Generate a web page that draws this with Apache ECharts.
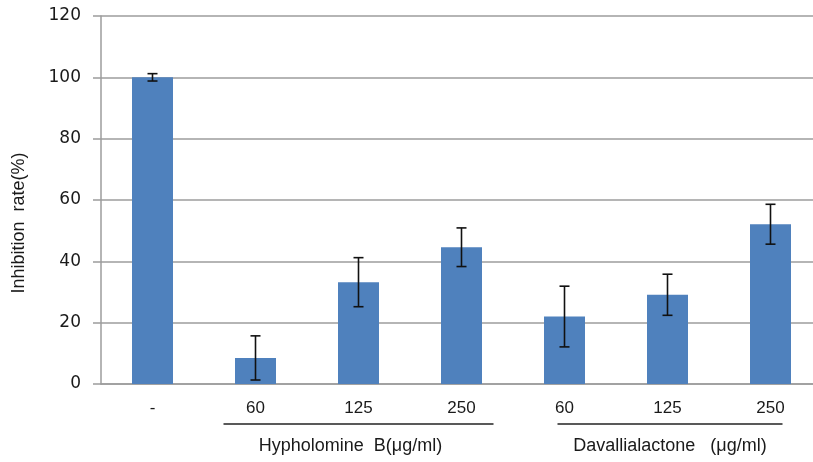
<!DOCTYPE html>
<html>
<head>
<meta charset="utf-8">
<script src="https://cdn.jsdelivr.net/npm/echarts@6/dist/echarts.min.js"></script>
<style>
  html, body { margin: 0; padding: 0; background: #fff; }
  #chart { width: 813px; height: 462px; }
</style>
</head>
<body>
<div id="chart"></div>
<script>
// Doses on the category axis ("-" is the untreated control)
const categories = ['-', '60', '125', '250', '60', '125', '250'];
// Mean inhibition rate (%) for each dose
const inhibition = [100, 8.5, 33.2, 44.6, 22, 29.1, 52.1];
// Standard deviation drawn as error bars
const deviation = [1.2, 7.2, 8, 6.3, 9.9, 6.7, 6.5];
// Compound groups: label plus first/last category index it spans
const groupNames = ['Hypholomine  B(\u03bcg/ml)', 'Davallialactone   (\u03bcg/ml)'];
const groupStart = [1, 4];
const groupEnd = [3, 6];
const yTicks = [0, 20, 40, 60, 80, 100, 120];

const chart = echarts.init(document.getElementById('chart'));

const errorData = inhibition.map((v, i) => [i, v - deviation[i], v + deviation[i]]);

const option = {
  animation: false,
  grid: { left: 101, top: 16, bottom: 78, width: 721, outerBoundsMode: 'none', containLabel: false },
  xAxis: {
    type: 'category',
    data: categories,
    axisLine: { lineStyle: { color: '#9c9c9c', width: 1.5 } },
    axisTick: { show: false },
    axisLabel: {
      color: '#1a1a1a',
      fontFamily: 'Liberation Sans',
      fontSize: 17,
      margin: 16
    }
  },
  yAxis: {
    type: 'value',
    min: yTicks[0],
    max: yTicks[yTicks.length - 1],
    interval: 20,
    axisLine: { show: true, lineStyle: { color: '#9c9c9c', width: 1.5 } },
    axisTick: { show: true, inside: false, length: 8, lineStyle: { color: '#9c9c9c', width: 1.5 } },
    splitLine: { lineStyle: { color: '#9c9c9c', width: 1.5 } },
    axisLabel: {
      color: '#1a1a1a',
      fontFamily: 'DejaVu Sans',
      fontSize: 17,
      margin: 20
    }
  },
  series: [
    {
      type: 'bar',
      data: inhibition,
      barWidth: 41,
      itemStyle: { color: '#4f81bd' },
      z: 2
    },
    {
      type: 'custom',
      data: errorData,
      z: 3,
      renderItem: function (params, api) {
        const x = api.value(0);
        const lo = api.coord([x, api.value(1)]);
        const hi = api.coord([x, api.value(2)]);
        const half = 5;
        const style = { stroke: '#111', lineWidth: 1.6 };
        return {
          type: 'group',
          children: [
            { type: 'line', shape: { x1: lo[0], y1: lo[1], x2: hi[0], y2: hi[1] }, style: style },
            { type: 'line', shape: { x1: hi[0] - half, y1: hi[1], x2: hi[0] + half, y2: hi[1] }, style: style },
            { type: 'line', shape: { x1: lo[0] - half, y1: lo[1], x2: lo[0] + half, y2: lo[1] }, style: style }
          ]
        };
      }
    }
  ]
};

chart.setOption(option);

// Group brackets under the dose labels, placed from the category axis
const lineY = 424;
const textY = 446;
const leftPad = [32, 7];
const rightPad = [32, 12];
const textShift = [-8, 0];
const graphics = [];
groupNames.forEach((name, g) => {
  const x0 = chart.convertToPixel({ xAxisIndex: 0 }, groupStart[g]) - leftPad[g];
  const x1 = chart.convertToPixel({ xAxisIndex: 0 }, groupEnd[g]) + rightPad[g];
  graphics.push({
    type: 'line',
    shape: { x1: x0, y1: lineY, x2: x1, y2: lineY },
    style: { stroke: '#222', lineWidth: 1.5 }
  });
  graphics.push({
    type: 'text',
    x: (x0 + x1) / 2 + textShift[g],
    y: textY,
    style: {
      text: name,
      fill: '#1a1a1a',
      font: '18px "Liberation Sans"',
      textAlign: 'center',
      textVerticalAlign: 'middle'
    }
  });
});
// Value axis title
graphics.push({
  type: 'text',
  x: 19,
  y: 223,
  rotation: Math.PI / 2,
  style: {
    text: 'Inhibition  rate(%)',
    fill: '#1a1a1a',
    font: '18px "Liberation Sans"',
    textAlign: 'center',
    textVerticalAlign: 'middle'
  }
});
chart.setOption({ graphic: graphics });
</script>
</body>
</html>
